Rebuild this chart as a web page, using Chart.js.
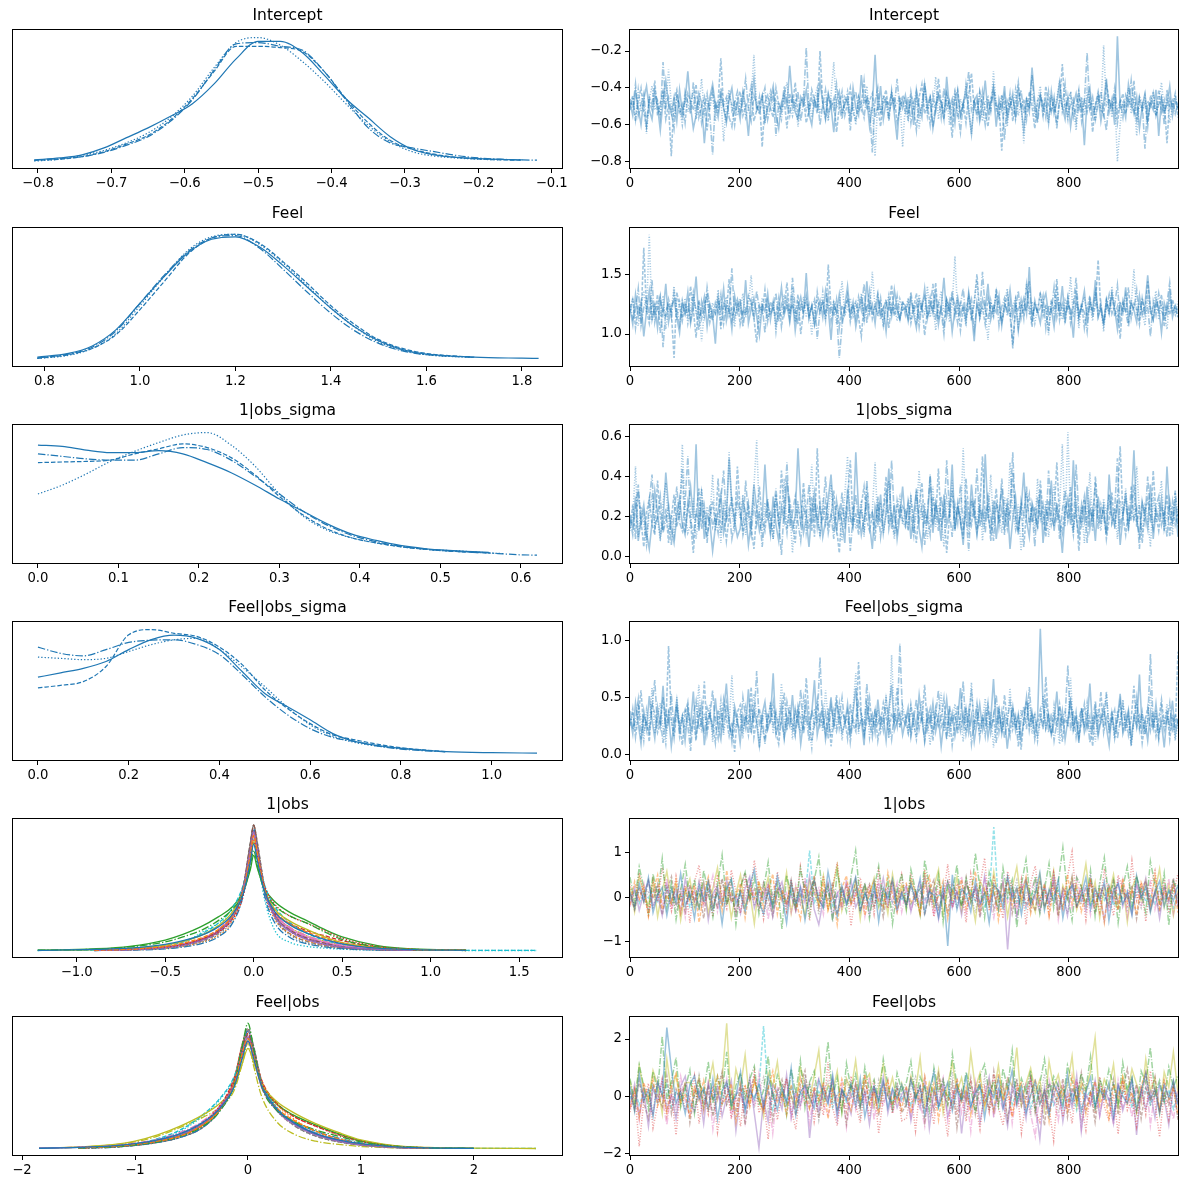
<!DOCTYPE html>
<html><head><meta charset="utf-8">
<script src="https://cdn.jsdelivr.net/npm/chart.js@4.4.1/dist/chart.umd.min.js"></script>
<style>
html,body{margin:0;padding:0;background:#fff;width:1188px;height:1189px;overflow:hidden;position:relative;}
canvas{position:absolute;}
</style></head><body>
<script>
// ---------------- DATA ----------------
const titles = ['Intercept','Feel','1|obs_sigma','Feel|obs_sigma','1|obs','Feel|obs'];

const kdeTickLabels = [
 ['−0.8','−0.7','−0.6','−0.5','−0.4','−0.3','−0.2','−0.1'],
 ['0.8','1.0','1.2','1.4','1.6','1.8'],
 ['0.0','0.1','0.2','0.3','0.4','0.5','0.6'],
 ['0.0','0.2','0.4','0.6','0.8','1.0'],
 ['−1.0','−0.5','0.0','0.5','1.0','1.5'],
 ['−2','−1','0','1','2']
];
const traceYTickLabels = [
 ['−0.8','−0.6','−0.4','−0.2'],['1.0','1.5'],['0.0','0.2','0.4','0.6'],
 ['0.0','0.5','1.0'],['−1','0','1'],['−2','0','2']
];
const traceXTickLabels = ['0','200','400','600','800'];

// KDE grids (parameter value) and densities (relative height) per chain / coordinate
const interceptGrid = [-0.805,-0.77,-0.74,-0.71,-0.68,-0.65,-0.62,-0.59,-0.56,-0.53,-0.50,-0.47,-0.44,-0.41,-0.38,-0.35,-0.32,-0.29,-0.26,-0.23,-0.20,-0.17,-0.14,-0.12];
const interceptKde = [
 [0.013,0.03,0.055,0.11,0.19,0.27,0.36,0.46,0.62,0.82,0.96,0.96,0.87,0.69,0.50,0.35,0.20,0.10,0.055,0.035,0.025,0.018,0.015,null],
 [0.01,0.02,0.04,0.08,0.14,0.21,0.33,0.50,0.72,0.92,0.92,0.91,0.88,0.72,0.50,0.31,0.17,0.10,0.06,0.035,0.022,0.015,0.012,null],
 [0.012,0.025,0.04,0.075,0.13,0.20,0.32,0.49,0.73,0.94,0.95,0.92,0.89,0.72,0.49,0.27,0.15,0.11,0.08,0.05,0.03,0.02,0.014,0.013],
 [0.005,0.02,0.05,0.09,0.15,0.23,0.35,0.52,0.75,0.95,0.99,0.93,0.80,0.64,0.46,0.29,0.16,0.08,0.045,0.03,0.02,0.015,null,null]
];
const feelGrid = [0.785,0.85,0.9,0.95,1.0,1.05,1.1,1.15,1.2,1.25,1.3,1.35,1.4,1.45,1.5,1.55,1.6,1.7,1.8,1.835];
const feelKde = [
 [0.02,0.05,0.11,0.24,0.45,0.66,0.85,0.96,0.98,0.90,0.75,0.58,0.41,0.26,0.15,0.08,0.045,0.02,0.012,0.01],
 [0.01,0.04,0.09,0.20,0.40,0.62,0.84,0.97,1.0,0.93,0.78,0.61,0.43,0.28,0.16,0.09,0.05,0.02,null,null],
 [0.015,0.045,0.10,0.23,0.45,0.67,0.86,0.97,0.99,0.89,0.72,0.54,0.37,0.23,0.13,0.07,0.04,0.02,null,null],
 [0.01,0.035,0.09,0.21,0.43,0.66,0.87,0.98,1.0,0.92,0.77,0.59,0.41,0.26,0.14,0.075,0.04,0.018,null,null]
];
const obsSigmaGrid = [0,0.03,0.06,0.09,0.12,0.15,0.18,0.21,0.24,0.27,0.30,0.33,0.36,0.39,0.42,0.45,0.48,0.51,0.54,0.56,0.58,0.60,0.62];
const obsSigmaKde = [
 [0.89,0.88,0.85,0.83,0.83,0.845,0.82,0.75,0.67,0.57,0.46,0.36,0.26,0.18,0.13,0.09,0.065,0.05,0.04,0.035,null,null,null],
 [0.75,0.755,0.76,0.77,0.82,0.86,0.90,0.87,0.79,0.65,0.48,0.33,0.22,0.15,0.11,0.08,0.06,0.045,0.035,0.03,null,null,null],
 [0.82,0.80,0.78,0.77,0.77,0.82,0.87,0.855,0.77,0.64,0.50,0.36,0.25,0.17,0.12,0.085,0.06,0.045,0.035,0.03,0.022,0.015,0.013],
 [0.50,0.57,0.66,0.76,0.84,0.91,0.97,0.99,0.89,0.72,0.50,0.32,0.21,0.15,0.11,0.08,0.06,0.05,0.04,0.03,0.025,null,null]
];
const feelSigmaGrid = [0,0.05,0.1,0.15,0.2,0.25,0.3,0.35,0.4,0.45,0.5,0.55,0.6,0.65,0.7,0.75,0.8,0.85,0.9,1.0,1.1];
const feelSigmaKde = [
 [0.61,0.645,0.68,0.735,0.83,0.91,0.945,0.92,0.83,0.655,0.48,0.375,0.27,0.16,0.096,0.065,0.043,0.028,0.016,0.008,0.005],
 [0.525,0.545,0.575,0.695,0.948,0.99,0.96,0.935,0.85,0.71,0.51,0.36,0.24,0.15,0.11,0.075,0.048,0.03,0.016,null,null],
 [0.85,0.80,0.78,0.83,0.887,0.905,0.908,0.87,0.79,0.63,0.455,0.31,0.20,0.13,0.096,0.06,0.037,0.024,0.015,null,null],
 [0.77,0.76,0.75,0.76,0.815,0.87,0.908,0.92,0.83,0.69,0.535,0.37,0.23,0.14,0.088,0.06,0.043,0.03,null,null,null]
];
const obsGrid = [-1.22,-0.9,-0.7,-0.5,-0.4,-0.3,-0.2,-0.12,-0.06,-0.02,0,0.02,0.06,0.12,0.2,0.3,0.4,0.5,0.7,0.9,1.2,1.6];
const obsKde = [
 [0.003,0.01,0.02,0.05,0.08,0.12,0.19,0.29,0.45,0.70,0.85,0.72,0.48,0.31,0.21,0.14,0.09,0.055,0.02,0.008,0.003,null],
 [null,0.005,0.012,0.035,0.06,0.10,0.17,0.28,0.47,0.76,0.92,0.78,0.50,0.32,0.22,0.15,0.10,0.06,0.022,0.008,0.003,null],
 [0.004,0.012,0.03,0.07,0.11,0.16,0.24,0.33,0.46,0.66,0.80,0.68,0.48,0.36,0.28,0.22,0.15,0.09,0.03,0.01,0.004,null],
 [null,0.005,0.012,0.03,0.05,0.09,0.15,0.25,0.43,0.72,0.88,0.75,0.52,0.37,0.28,0.22,0.16,0.10,0.035,0.012,0.004,null],
 [null,0.003,0.008,0.025,0.045,0.08,0.15,0.27,0.48,0.80,0.95,0.80,0.48,0.27,0.16,0.09,0.05,0.028,0.01,0.004,null,null],
 [null,0.004,0.01,0.03,0.05,0.09,0.16,0.28,0.50,0.83,1.0,0.84,0.50,0.28,0.17,0.10,0.06,0.03,0.01,0.004,0.002,null],
 [null,0.004,0.01,0.03,0.055,0.095,0.17,0.29,0.48,0.78,0.93,0.79,0.49,0.30,0.19,0.12,0.075,0.045,0.015,0.005,null,null],
 [null,0.002,0.006,0.02,0.035,0.065,0.13,0.25,0.50,0.85,1.0,0.86,0.52,0.26,0.13,0.065,0.035,0.02,0.006,0.002,null,null],
 [0.003,0.008,0.02,0.045,0.075,0.12,0.20,0.31,0.47,0.72,0.87,0.74,0.49,0.33,0.24,0.17,0.11,0.065,0.025,0.009,0.003,null],
 [0.002,0.006,0.015,0.04,0.07,0.13,0.22,0.34,0.52,0.75,0.86,0.76,0.53,0.35,0.23,0.14,0.085,0.05,0.018,0.007,0.003,0.002],
 [null,0.002,0.005,0.015,0.03,0.055,0.11,0.22,0.44,0.80,0.97,0.82,0.45,0.22,0.11,0.055,0.03,0.016,0.005,0.002,null,null],
 [null,null,0.005,0.018,0.035,0.065,0.12,0.23,0.45,0.78,0.94,0.80,0.47,0.25,0.14,0.08,0.045,0.025,0.008,0.003,null,null],
 [0.005,0.015,0.035,0.085,0.13,0.19,0.27,0.35,0.47,0.64,0.76,0.66,0.50,0.39,0.31,0.24,0.17,0.11,0.04,0.014,0.005,null],
 [null,0.004,0.01,0.028,0.05,0.085,0.15,0.26,0.46,0.77,0.92,0.79,0.49,0.30,0.22,0.16,0.12,0.08,0.03,0.01,0.004,null],
 [null,0.003,0.009,0.026,0.048,0.085,0.16,0.28,0.49,0.80,0.96,0.82,0.50,0.28,0.17,0.10,0.06,0.033,0.012,0.004,null,null],
 [null,0.003,0.008,0.024,0.044,0.08,0.15,0.28,0.51,0.85,1.0,0.86,0.52,0.29,0.16,0.09,0.05,0.026,0.009,0.003,null,null],
 [null,0.003,0.009,0.028,0.05,0.09,0.16,0.29,0.50,0.81,0.95,0.82,0.50,0.30,0.18,0.11,0.065,0.038,0.013,0.005,null,null],
 [null,0.002,0.007,0.022,0.04,0.075,0.14,0.27,0.50,0.86,1.0,0.87,0.52,0.27,0.14,0.075,0.04,0.022,0.007,0.002,null,null],
 [null,0.004,0.01,0.03,0.05,0.09,0.16,0.27,0.47,0.78,0.93,0.79,0.48,0.29,0.19,0.12,0.075,0.045,0.016,0.006,0.002,null],
 [0.002,0.004,0.01,0.03,0.06,0.14,0.22,0.30,0.45,0.74,0.90,0.76,0.42,0.16,0.07,0.035,0.02,0.012,0.005,0.003,0.002,0.002]
];
const feelObsGrid = [-1.85,-1.5,-1.2,-1.0,-0.8,-0.6,-0.4,-0.25,-0.12,-0.05,0,0.05,0.12,0.25,0.4,0.6,0.8,1.0,1.3,1.6,2.0,2.55];
const feelObsKde = [
 [0.004,0.01,0.022,0.04,0.07,0.12,0.21,0.32,0.50,0.72,0.86,0.72,0.50,0.32,0.21,0.12,0.07,0.04,0.015,0.006,0.003,null],
 [null,0.008,0.018,0.035,0.06,0.10,0.19,0.31,0.52,0.76,0.88,0.74,0.50,0.33,0.23,0.14,0.08,0.04,0.014,0.005,null,null],
 [null,0.006,0.015,0.03,0.055,0.10,0.18,0.30,0.52,0.82,1.0,0.80,0.50,0.31,0.22,0.15,0.10,0.055,0.02,0.007,0.003,null],
 [null,0.01,0.02,0.04,0.07,0.12,0.21,0.34,0.54,0.76,0.87,0.74,0.53,0.36,0.26,0.18,0.11,0.06,0.02,0.007,null,null],
 [0.004,0.01,0.02,0.038,0.065,0.11,0.20,0.33,0.53,0.77,0.89,0.75,0.50,0.31,0.20,0.11,0.06,0.03,0.01,0.004,null,null],
 [null,0.007,0.016,0.032,0.06,0.10,0.19,0.32,0.53,0.79,0.91,0.77,0.51,0.32,0.21,0.12,0.07,0.035,0.012,0.005,0.002,null],
 [0.005,0.012,0.024,0.045,0.075,0.13,0.22,0.34,0.52,0.74,0.85,0.72,0.49,0.31,0.20,0.12,0.065,0.035,0.012,0.004,null,null],
 [null,0.006,0.014,0.03,0.055,0.10,0.18,0.31,0.54,0.81,0.93,0.79,0.52,0.31,0.19,0.10,0.055,0.03,0.01,0.004,null,null],
 [0.004,0.014,0.032,0.06,0.11,0.18,0.27,0.36,0.50,0.68,0.80,0.69,0.52,0.38,0.29,0.20,0.13,0.07,0.025,0.01,0.005,0.002],
 [null,0.008,0.02,0.04,0.08,0.15,0.27,0.40,0.58,0.78,0.88,0.76,0.53,0.33,0.21,0.12,0.065,0.035,0.012,0.005,0.003,0.002],
 [null,0.005,0.012,0.026,0.05,0.09,0.17,0.30,0.52,0.81,0.94,0.80,0.53,0.33,0.22,0.14,0.085,0.045,0.016,0.006,0.003,null],
 [null,0.006,0.014,0.03,0.055,0.10,0.19,0.33,0.56,0.83,0.94,0.80,0.55,0.36,0.24,0.14,0.08,0.04,0.013,0.005,null,null],
 [null,0.008,0.018,0.036,0.065,0.11,0.20,0.32,0.50,0.74,0.86,0.74,0.52,0.36,0.27,0.19,0.12,0.065,0.022,0.008,0.003,null],
 [null,0.008,0.018,0.035,0.06,0.11,0.20,0.34,0.57,0.82,0.92,0.79,0.55,0.37,0.26,0.18,0.115,0.06,0.02,0.007,null,null],
 [null,0.006,0.014,0.03,0.055,0.10,0.19,0.33,0.55,0.82,0.94,0.80,0.53,0.33,0.21,0.12,0.065,0.033,0.011,0.004,null,null],
 [null,0.005,0.012,0.026,0.05,0.09,0.17,0.31,0.54,0.83,0.95,0.81,0.53,0.32,0.20,0.11,0.06,0.03,0.01,0.004,null,null],
 [null,0.007,0.016,0.033,0.06,0.105,0.19,0.32,0.53,0.79,0.90,0.77,0.52,0.32,0.21,0.12,0.07,0.036,0.012,0.005,null,null],
 [null,0.005,0.012,0.026,0.05,0.09,0.17,0.31,0.55,0.84,0.96,0.82,0.54,0.32,0.19,0.10,0.055,0.028,0.009,0.003,null,null],
 [0.003,0.012,0.03,0.055,0.10,0.17,0.25,0.33,0.47,0.68,0.84,0.66,0.42,0.22,0.12,0.06,0.035,0.018,0.007,0.003,null,null],
 [null,0.007,0.018,0.038,0.075,0.14,0.26,0.39,0.57,0.79,0.90,0.78,0.54,0.34,0.22,0.13,0.07,0.038,0.013,0.005,0.003,null]
];

// Trace samples (thinned draws) per chain / coordinate
const interceptTrace = [
 [-.48,-.55,-.42,-.51,-.60,-.46,-.39,-.52,-.57,-.44,-.50,-.63,-.47,-.36,-.49,-.54,-.45,-.58,-.41,-.53,-.47,-.31,-.50,-.62,-.55,-.43,-.48,-.70,-.52,-.45,-.38,-.49,-.56,-.44,-.51,-.59,-.46,-.40,-.53,-.48,-.57,-.42,-.50,-.66,-.47,-.35,-.52,-.49,-.44,-.58,-.51,-.46,-.39,-.55,-.62,-.48,-.43,-.50,-.28,-.47,-.53,-.57,-.45,-.49,-.41,-.54,-.60,-.46,-.51,-.37,-.48,-.56,-.43,-.50,-.64,-.47,-.42,-.53,-.49,-.45,-.58,-.40,-.51,-.55,-.33,-.48,-.46,-.61,-.50,-.22,-.52,-.39,-.57,-.47,-.49,-.43,-.54,-.68,-.46,-.51,
  -.44,-.53,-.47,-.60,-.41,-.50,-.56,-.38,-.49,-.45,-.62,-.52,-.43,-.48,-.57,-.34,-.51,-.46,-.59,-.42,-.55,-.49,-.40,-.53,-.65,-.47,-.44,-.58,-.50,-.36,-.54,-.48,-.43,-.61,-.46,-.52,-.39,-.57,-.49,-.45,-.55,-.41,-.50,-.63,-.47,-.53,-.29,-.48,-.56,-.44,-.51,-.46,-.59,-.42,-.54,-.48,-.37,-.50,-.57,-.45,-.61,-.49,-.43,-.52,-.47,-.71,-.46,-.40,-.55,-.50,-.44,-.58,-.48,-.35,-.53,-.46,-.60,-.12,-.51,-.49,-.56,-.38,-.47,-.54,-.45,-.62,-.50,-.43,-.57,-.48,-.52,-.41,-.66,-.46,-.53,-.49,-.39,-.55,-.47,-.51],
 [-.52,-.44,-.58,-.47,-.40,-.53,-.61,-.45,-.49,-.36,-.55,-.48,-.42,-.57,-.50,-.77,-.46,-.41,-.54,-.49,-.59,-.43,-.47,-.52,-.38,-.56,-.50,-.45,-.63,-.48,-.41,-.53,-.47,-.24,-.51,-.57,-.44,-.49,-.60,-.46,-.42,-.55,-.50,-.47,-.39,-.58,-.52,-.45,-.72,-.48,-.44,-.51,-.56,-.40,-.49,-.53,-.46,-.62,-.43,-.50,-.37,-.55,-.48,-.45,-.59,-.52,-.41,-.47,-.54,-.20,-.49,-.57,-.44,-.51,-.46,-.64,-.50,-.42,-.55,-.48,-.40,-.53,-.58,-.45,-.49,-.36,-.52,-.47,-.43,-.56,-.50,-.61,-.46,-.41,-.54,-.48,-.45,-.59,-.51,-.44,
  -.47,-.56,-.42,-.51,-.63,-.45,-.38,-.54,-.49,-.60,-.44,-.52,-.35,-.48,-.57,-.43,-.50,-.67,-.46,-.41,-.55,-.48,-.59,-.44,-.32,-.51,-.47,-.56,-.42,-.53,-.61,-.46,-.40,-.52,-.49,-.74,-.45,-.54,-.43,-.58,-.48,-.37,-.51,-.46,-.57,-.42,-.50,-.62,-.47,-.44,-.55,-.39,-.49,-.53,-.45,-.60,-.48,-.27,-.52,-.46,-.43,-.56,-.50,-.41,-.58,-.47,-.53,-.45,-.64,-.49,-.42,-.51,-.55,-.38,-.47,-.52,-.44,-.59,-.48,-.43,-.54,-.46,-.50,-.36,-.57,-.45,-.52,-.48,-.61,-.44,-.49,-.55,-.41,-.53,-.47,-.70,-.46,-.50,-.43,-.56],
 [-.46,-.51,-.38,-.55,-.49,-.43,-.60,-.47,-.52,-.41,-.48,-.56,-.26,-.50,-.45,-.53,-.62,-.44,-.49,-.57,-.42,-.48,-.54,-.37,-.51,-.46,-.59,-.50,-.43,-.55,-.76,-.47,-.52,-.40,-.49,-.45,-.56,-.61,-.48,-.42,-.53,-.47,-.35,-.51,-.58,-.44,-.49,-.54,-.46,-.40,-.57,-.50,-.43,-.66,-.48,-.52,-.39,-.47,-.55,-.45,-.50,-.42,-.58,-.48,-.18,-.53,-.46,-.51,-.44,-.60,-.49,-.41,-.55,-.47,-.52,-.38,-.50,-.57,-.45,-.48,-.63,-.46,-.42,-.53,-.49,-.56,-.44,-.51,-.75,-.47,-.40,-.54,-.49,-.45,-.58,-.43,-.50,-.35,-.52,-.47,
  -.53,-.45,-.59,-.48,-.42,-.55,-.50,-.37,-.52,-.46,-.61,-.49,-.44,-.56,-.40,-.51,-.47,-.58,-.43,-.53,-.64,-.48,-.45,-.31,-.52,-.47,-.56,-.42,-.50,-.60,-.46,-.53,-.39,-.49,-.55,-.44,-.68,-.47,-.51,-.43,-.57,-.48,-.41,-.54,-.46,-.50,-.33,-.52,-.59,-.45,-.48,-.56,-.42,-.53,-.47,-.62,-.44,-.50,-.38,-.55,-.49,-.46,-.58,-.43,-.52,-.47,-.21,-.51,-.45,-.57,-.48,-.42,-.54,-.63,-.46,-.50,-.40,-.53,-.47,-.56,-.44,-.49,-.36,-.52,-.58,-.45,-.48,-.73,-.47,-.51,-.43,-.55,-.49,-.45,-.60,-.41,-.52,-.47,-.54,-.48],
 [-.50,-.45,-.57,-.41,-.53,-.48,-.65,-.46,-.39,-.52,-.47,-.55,-.43,-.50,-.30,-.49,-.56,-.44,-.51,-.60,-.46,-.53,-.48,-.42,-.57,-.49,-.35,-.54,-.47,-.51,-.44,-.58,-.50,-.45,-.69,-.48,-.41,-.52,-.47,-.55,-.49,-.43,-.56,-.51,-.46,-.22,-.50,-.54,-.45,-.59,-.48,-.42,-.53,-.47,-.51,-.57,-.44,-.37,-.50,-.55,-.46,-.61,-.49,-.43,-.52,-.48,-.56,-.45,-.40,-.53,-.50,-.47,-.58,-.44,-.26,-.51,-.46,-.54,-.49,-.42,-.55,-.48,-.60,-.45,-.52,-.47,-.39,-.56,-.50,-.77,-.46,-.53,-.44,-.49,-.57,-.41,-.51,-.48,-.45,-.72,
  -.49,-.58,-.43,-.52,-.46,-.62,-.48,-.40,-.55,-.45,-.51,-.34,-.57,-.47,-.53,-.44,-.60,-.49,-.42,-.56,-.46,-.52,-.38,-.50,-.65,-.47,-.54,-.43,-.58,-.48,-.45,-.53,-.31,-.50,-.57,-.44,-.49,-.61,-.46,-.52,-.41,-.55,-.48,-.70,-.45,-.51,-.43,-.56,-.47,-.39,-.54,-.49,-.59,-.44,-.52,-.46,-.36,-.53,-.48,-.57,-.42,-.50,-.63,-.47,-.45,-.55,-.41,-.51,-.48,-.58,-.44,-.53,-.17,-.49,-.46,-.56,-.43,-.80,-.60,-.47,-.50,-.40,-.54,-.45,-.66,-.48,-.52,-.44,-.57,-.49,-.42,-.55,-.47,-.37,-.53,-.46,-.59,-.50,-.44,-.51]
];
const feelTrace = [
 [1.21,1.08,1.33,1.15,1.27,.98,1.19,1.36,1.12,1.24,1.05,1.30,1.18,1.42,1.10,1.23,1.29,1.14,1.01,1.26,1.17,1.35,1.09,1.22,1.48,1.13,1.20,1.31,1.06,1.25,1.16,.92,1.28,1.19,1.38,1.11,1.23,1.04,1.32,1.18,1.26,1.14,1.45,1.09,1.21,1.30,1.15,.99,1.24,1.19,1.34,1.12,1.27,1.07,1.20,1.39,1.16,1.25,1.10,1.29,1.03,1.22,1.31,1.17,1.51,1.13,1.24,1.08,1.19,1.28,1.14,1.36,1.21,.95,1.26,1.18,1.33,1.11,1.23,1.40,1.16,1.27,1.06,1.20,1.30,1.13,1.44,1.19,1.25,1.09,1.32,1.17,1.22,1.02,1.28,1.15,1.37,1.21,1.12,1.26,
  1.24,1.11,1.30,1.17,1.05,1.28,1.20,1.38,1.13,1.25,1.19,1.33,1.08,1.22,1.47,1.15,1.27,1.02,1.21,1.31,1.16,1.24,1.10,1.35,1.19,.94,1.26,1.14,1.29,1.21,1.42,1.12,1.23,1.18,1.32,1.07,1.25,1.20,1.37,1.15,1.28,1.03,1.22,1.30,1.17,1.56,1.13,1.24,1.19,1.09,1.27,1.34,1.16,1.21,1.06,1.29,1.18,1.40,1.12,1.25,1.20,.97,1.31,1.15,1.23,1.36,1.11,1.26,1.19,1.45,1.14,1.22,1.08,1.28,1.17,1.33,1.21,1.04,1.25,1.18,1.39,1.13,1.27,1.20,1.10,1.32,1.16,1.24,1.49,1.19,1.12,1.29,1.22,1.01,1.26,1.17,1.35,1.14,1.23,1.20],
 [1.18,1.30,1.05,1.24,1.12,1.72,1.20,1.09,1.27,1.16,1.33,1.01,1.22,1.14,1.29,1.19,.80,1.35,1.23,1.11,1.26,1.15,1.40,1.20,.97,1.28,1.13,1.24,1.34,1.10,1.21,1.17,1.31,1.04,1.25,1.19,1.46,1.12,1.23,1.29,1.08,1.20,1.16,1.32,1.26,1.13,.93,1.24,1.18,1.37,1.11,1.27,1.21,1.15,1.30,1.06,1.22,1.43,1.17,1.25,1.14,1.33,1.00,1.20,1.28,1.16,1.23,1.09,1.35,1.19,1.26,1.12,1.58,1.21,1.15,1.29,1.05,1.24,1.18,1.32,1.10,1.22,1.27,1.14,.98,1.25,1.20,1.36,1.13,1.23,1.17,1.30,1.08,1.26,1.19,1.41,1.15,1.22,1.11,1.28,
  1.16,1.27,1.09,1.22,1.34,1.14,1.25,.99,1.20,1.31,1.18,1.43,1.12,1.24,1.07,1.29,1.21,1.36,1.15,1.26,1.03,1.23,1.19,1.32,1.11,1.27,1.50,1.17,1.22,1.08,1.30,1.20,1.14,1.38,1.25,1.10,1.21,1.33,1.16,.91,1.24,1.19,1.29,1.13,1.41,1.22,1.06,1.27,1.18,1.35,1.15,1.23,1.02,1.28,1.20,1.46,1.12,1.25,1.17,1.31,1.09,1.22,1.37,1.16,1.26,1.05,1.21,1.32,1.14,1.24,1.62,1.19,1.11,1.28,1.20,1.34,1.15,1.23,.96,1.27,1.18,1.39,1.13,1.25,1.21,1.08,1.30,1.17,1.44,1.22,1.12,1.26,1.19,1.33,1.06,1.24,1.16,1.29,1.20,1.14],
 [1.25,1.13,1.20,1.38,1.07,1.22,1.29,1.16,1.45,1.10,1.23,1.32,.89,1.19,1.26,1.14,1.35,1.21,1.08,1.28,1.17,1.24,1.12,1.31,1.20,1.03,1.27,1.15,1.39,1.22,1.11,1.26,1.18,1.33,1.09,1.25,1.19,1.55,1.14,1.23,1.30,1.06,1.21,1.17,1.28,1.12,1.36,1.20,1.24,1.01,1.27,1.16,1.22,1.34,1.10,1.25,1.19,1.30,1.13,1.47,1.21,1.08,1.26,1.18,1.32,1.14,1.23,1.29,.96,1.20,1.27,1.15,1.33,1.11,1.24,1.19,.80,1.07,1.22,1.28,1.16,1.25,1.13,1.31,1.20,1.42,1.09,1.26,1.18,1.23,1.34,1.12,1.21,1.29,1.05,1.24,1.17,1.32,1.14,1.20,
  1.22,1.13,1.35,1.18,1.27,1.06,1.24,1.31,1.15,1.20,1.42,1.11,1.26,1.19,1.00,1.28,1.17,1.33,1.23,1.09,1.25,1.38,1.14,1.21,1.29,1.04,1.24,1.16,1.52,1.20,1.12,1.27,1.18,1.34,1.07,1.23,1.30,1.15,1.26,.88,1.21,1.36,1.13,1.25,1.19,1.44,1.10,1.28,1.17,1.22,1.32,1.05,1.24,1.19,1.39,1.14,1.27,1.21,1.09,1.30,1.16,1.25,1.47,1.12,1.23,1.18,1.02,1.29,1.20,1.35,1.15,1.26,1.08,1.22,1.33,1.17,1.24,1.41,1.11,1.28,1.19,1.06,1.25,1.21,1.37,1.14,1.30,1.18,1.23,.98,1.27,1.16,1.34,1.20,1.12,1.26,1.43,1.19,1.24,1.15],
 [1.20,1.29,1.14,1.07,1.24,1.36,1.18,1.83,1.11,1.26,1.21,1.15,1.32,1.04,1.23,1.19,1.40,1.12,1.27,1.16,1.30,1.09,1.22,1.35,1.17,1.25,.94,1.20,1.29,1.13,1.26,1.18,1.37,1.10,1.23,1.31,1.15,1.21,1.06,1.28,1.19,1.34,1.14,1.24,1.49,1.17,1.22,1.09,1.30,1.25,1.12,1.20,1.27,1.02,1.23,1.16,1.33,1.21,1.18,1.39,1.10,1.26,1.19,1.31,1.14,1.24,.99,1.22,1.29,1.17,1.35,1.12,1.25,1.20,1.28,1.08,1.23,1.44,1.16,1.21,1.30,1.13,1.26,1.19,1.34,1.10,1.24,1.17,1.52,1.22,1.15,1.28,1.06,1.23,1.33,1.18,1.25,1.11,1.29,1.20,
  1.19,1.30,1.12,1.25,1.08,1.33,1.21,1.17,1.40,1.14,1.26,1.03,1.23,1.36,1.18,1.29,1.10,1.24,1.65,1.16,1.27,1.20,1.07,1.32,1.15,1.25,1.45,1.13,1.22,1.19,.95,1.28,1.17,1.34,1.21,1.11,1.26,1.38,1.14,1.23,1.30,1.06,1.25,1.18,1.42,1.16,1.27,1.09,1.21,1.33,1.19,1.24,.99,1.29,1.15,1.37,1.22,1.12,1.28,1.20,1.48,1.14,1.26,1.05,1.23,1.31,1.17,1.25,1.11,1.35,1.19,1.22,1.02,1.28,1.16,1.40,1.21,1.13,1.27,1.18,1.32,1.09,1.24,1.54,1.15,1.26,1.20,1.07,1.30,1.17,1.23,1.36,1.12,1.25,1.19,1.04,1.29,1.21,1.16,1.27]
];
const obsSigmaTrace = [
 [.21,.15,.30,.08,.19,.26,.12,.04,.17,.33,.22,.10,.18,.42,.25,.14,.07,.20,.29,.16,.11,.24,.35,.19,.56,.13,.27,.09,.21,.17,.03,.15,.23,.31,.12,.20,.49,.26,.18,.10,.14,.28,.22,.06,.17,.36,.24,.13,.19,.46,.21,.11,.30,.16,.08,.25,.18,.38,.23,.14,.20,.54,.27,.12,.19,.05,.22,.32,.15,.26,.10,.18,.29,.41,.21,.13,.24,.17,.07,.34,.20,.15,.52,.23,.11,.19,.28,.16,.04,.25,.18,.31,.12,.22,.44,.14,.26,.09,.20,.35,
  .17,.26,.09,.21,.33,.14,.05,.23,.18,.40,.12,.27,.20,.08,.31,.16,.22,.46,.13,.25,.19,.06,.29,.15,.36,.21,.11,.24,.17,.51,.20,.13,.28,.09,.22,.34,.16,.26,.04,.19,.30,.14,.23,.42,.18,.10,.27,.21,.15,.33,.07,.24,.19,.38,.13,.25,.17,.02,.22,.29,.16,.48,.20,.11,.26,.18,.35,.14,.23,.08,.30,.19,.24,.12,.41,.21,.16,.28,.06,.20,.32,.15,.25,.53,.18,.11,.27,.22,.14,.36,.09,.23,.19,.29,.13,.45,.21,.17,.26,.10],
 [.14,.26,.09,.33,.18,.05,.22,.29,.16,.11,.38,.20,.13,.24,.07,.19,.31,.15,.22,.44,.12,.27,.17,.02,.21,.34,.14,.25,.10,.19,.28,.16,.39,.12,.23,.08,.20,.30,.17,.45,.24,.11,.19,.27,.15,.04,.22,.35,.18,.13,.26,.20,.09,.31,.16,.43,.23,.12,.28,.19,.07,.25,.17,.37,.21,.14,.30,.10,.54,.23,.18,.27,.12,.20,.33,.15,.02,.24,.19,.29,.48,.16,.22,.11,.26,.35,.18,.13,.21,.08,.30,.17,.24,.40,.14,.22,.11,.28,.19,.25,
  .22,.13,.29,.18,.07,.25,.37,.16,.21,.11,.30,.19,.44,.15,.24,.02,.20,.33,.14,.27,.18,.09,.39,.22,.16,.28,.12,.23,.50,.19,.26,.08,.21,.34,.15,.24,.11,.29,.18,.42,.20,.13,.27,.05,.23,.31,.17,.25,.14,.38,.21,.10,.28,.16,.22,.47,.19,.12,.26,.20,.35,.15,.24,.03,.21,.30,.17,.27,.13,.40,.22,.16,.25,.09,.19,.32,.14,.28,.55,.20,.11,.24,.18,.36,.15,.26,.07,.23,.29,.17,.43,.21,.13,.25,.19,.31,.10,.27,.16,.22],
 [.19,.11,.24,.36,.16,.22,.08,.28,.41,.14,.20,.30,.12,.18,.25,.06,.21,.35,.17,.13,.27,.50,.19,.10,.23,.16,.32,.21,.07,.26,.15,.20,.12,.29,.43,.18,.24,.09,.17,.31,.22,.14,.38,.20,.11,.27,.16,.23,.05,.19,.29,.13,.21,.34,.18,.01,.25,.47,.15,.22,.30,.17,.08,.24,.20,.36,.13,.27,.19,.11,.23,.40,.16,.21,.09,.28,.18,.32,.14,.25,.03,.20,.31,.17,.24,.12,.38,.19,.22,.15,.27,.10,.21,.33,.16,.48,.20,.13,.26,.18,
  .15,.28,.20,.11,.34,.18,.25,.06,.22,.41,.16,.27,.13,.30,.19,.48,.23,.10,.26,.17,.36,.14,.21,.03,.29,.19,.44,.15,.24,.12,.32,.20,.08,.27,.17,.39,.22,.14,.25,.52,.18,.11,.28,.21,.35,.16,.24,.05,.30,.19,.26,.13,.43,.20,.15,.27,.09,.23,.33,.18,.25,.12,.46,.21,.16,.29,.07,.24,.19,.37,.14,.26,.20,.11,.31,.17,.23,.49,.15,.22,.28,.13,.35,.19,.24,.04,.27,.18,.40,.21,.14,.25,.30,.16,.22,.10,.28,.19,.33,.15],
 [.13,.20,.45,.10,.25,.17,.06,.22,.30,.15,.19,.08,.27,.37,.14,.21,.11,.24,.18,.56,.23,.12,.16,.29,.09,.20,.34,.15,.25,.18,.41,.13,.22,.07,.28,.17,.52,.21,.14,.26,.19,.31,.11,.24,.16,.35,.58,.20,.12,.27,.18,.23,.09,.30,.15,.21,.39,.14,.25,.02,.20,.28,.17,.33,.12,.22,.46,.18,.24,.10,.29,.16,.21,.36,.13,.26,.19,.08,.31,.50,.17,.24,.14,.20,.28,.10,.35,.19,.23,.47,.15,.27,.12,.21,.38,.18,.09,.25,.30,.16,
  .24,.16,.31,.12,.22,.43,.18,.27,.09,.20,.35,.15,.26,.19,.05,.29,.21,.38,.14,.25,.17,.54,.20,.11,.28,.23,.16,.32,.08,.24,.19,.41,.15,.27,.21,.12,.30,.18,.47,.22,.14,.26,.03,.20,.33,.17,.25,.13,.39,.21,.16,.28,.10,.23,.36,.19,.24,.56,.15,.62,.20,.11,.31,.18,.25,.07,.22,.42,.16,.26,.19,.13,.29,.21,.31,.17,.24,.09,.28,.20,.34,.15,.23,.18,.45,.22,.12,.27,.19,.05,.30,.17,.25,.38,.14,.21,.26,.11,.32,.20]
];
const feelSigmaTrace = [
 [.32,.18,.45,.27,.09,.38,.22,.51,.30,.14,.41,.25,.60,.19,.35,.07,.28,.47,.21,.33,.12,.39,.26,.55,.17,.31,.44,.08,.29,.36,.20,.49,.24,.13,.37,.62,.27,.16,.42,.30,.10,.34,.23,.57,.19,.40,.28,.06,.35,.46,.22,.31,.71,.18,.27,.43,.14,.33,.25,.52,.20,.38,.09,.29,.45,.24,.36,.65,.17,.31,.41,.13,.28,.50,.22,.45,.34,.19,.26,.44,.15,.37,.58,.23,.30,.08,.42,.27,.35,.19,.48,.25,.33,.12,.40,.61,.21,.29,.36,.17,
  .29,.41,.18,.35,.24,.52,.31,.13,.38,.27,.45,.20,.33,.07,.29,.48,.23,.36,.16,.31,.58,.25,.40,.19,.34,.11,.28,.44,.22,.37,.15,.30,.66,.24,.39,.18,.33,.05,.27,.42,.21,.35,.14,.29,.50,.26,.37,.19,.31,1.10,.43,.23,.34,.17,.28,.55,.21,.38,.13,.30,.46,.25,.33,.10,.40,.19,.27,.62,.22,.35,.16,.29,.41,.24,.08,.36,.20,.31,.53,.18,.27,.39,.14,.33,.25,.70,.21,.30,.12,.37,.23,.44,.19,.28,.06,.34,.26,.47,.17,.31],
 [.25,.40,.15,.33,.56,.21,.29,.11,.44,.36,.19,.27,.50,.23,.95,.31,.14,.38,.26,.08,.35,.46,.20,.30,.12,.41,.24,.64,.18,.33,.27,.10,.39,.22,.48,.31,.16,.28,.02,.37,.43,.21,.34,.26,.59,.15,.30,.40,.23,.13,.36,.27,.45,.19,.09,.32,.54,.24,.38,.28,.16,.42,.30,.21,.67,.35,.11,.27,.47,.25,.33,.18,.40,.07,.29,.52,.23,.37,.31,.14,.44,.26,.20,.81,.34,.17,.30,.49,.22,.38,.12,.28,.45,.33,.19,.36,.27,.58,.24,.31,
  .34,.20,.44,.27,.15,.38,.29,.61,.22,.33,.12,.40,.25,.31,.49,.18,.36,.08,.28,.43,.21,.35,.17,.30,.57,.24,.39,.14,.32,.26,.45,.19,.34,.10,.37,.23,.52,.28,.16,.41,.25,.33,.04,.30,.47,.21,.36,.13,.27,.39,.22,.68,.29,.18,.35,.24,.42,.11,.31,.26,.50,.20,.37,.15,.28,.44,.23,.33,.07,.40,.27,.55,.19,.32,.25,.38,.14,.29,.46,.22,.35,.17,.31,.60,.24,.36,.10,.28,.41,.21,.34,.16,.30,.48,.26,.39,.13,.33,.23,.90],
 [.38,.22,.30,.48,.13,.35,.27,.19,.42,.65,.24,.32,.10,.37,.28,.53,.21,.44,.16,.31,.39,.25,.03,.34,.47,.22,.29,.18,.41,.33,.56,.26,.14,.38,.23,.45,.30,.11,.36,.27,.20,.50,.32,.17,.40,.28,.73,.24,.35,.09,.31,.43,.26,.37,.19,.29,.15,.46,.33,.22,.40,.27,.57,.18,.34,.12,.39,.25,.30,.85,.23,.36,.14,.43,.28,.20,.33,.50,.26,.38,.11,.31,.24,.45,.35,.19,.62,.29,.15,.40,.27,.34,.21,.48,.30,.13,.37,.25,.97,.32,
  .26,.37,.15,.31,.48,.22,.34,.11,.29,.40,.19,.35,.56,.24,.30,.13,.43,.27,.36,.18,.32,.64,.21,.38,.09,.28,.45,.25,.33,.16,.41,.23,.31,.52,.20,.37,.14,.29,.46,.26,.34,.07,.30,.42,.22,.59,.27,.35,.17,.32,.24,.49,.19,.36,.12,.28,.44,.25,.33,.78,.21,.38,.15,.30,.41,.23,.35,.10,.27,.47,.20,.34,.26,.53,.18,.31,.39,.14,.29,.43,.24,.36,.08,.32,.50,.22,.37,.17,.28,.88,.25,.33,.13,.40,.21,.30,.45,.19,.35,.27],
 [.28,.35,.20,.42,.31,.12,.39,.25,.58,.18,.33,.45,.23,.09,.37,.29,.16,.50,.26,.34,.21,.40,.14,.31,.27,.61,.19,.36,.24,.44,.11,.32,.28,.47,.17,.38,.25,.69,.22,.30,.35,.14,.41,.27,.20,.53,.33,.08,.29,.39,.24,.46,.18,.35,.26,.62,.30,.21,.43,.13,.37,.28,.19,.49,.32,.24,.06,.40,.27,.35,.20,.56,.31,.16,.38,.26,.44,.12,.34,.29,.22,.41,.71,.18,.36,.27,.48,.15,.32,.25,.39,.20,.30,.52,.14,.87,.28,.35,.23,.42,
  .31,.19,.40,.26,.13,.35,.47,.22,.30,.08,.38,.25,.33,.54,.20,.36,.15,.29,.44,.24,.32,.11,.41,.27,.63,.21,.34,.17,.30,.49,.23,.37,.06,.28,.42,.19,.35,.26,.58,.22,.31,.14,.39,.25,.33,.46,.18,.36,.12,.29,.51,.23,.34,.20,.43,.27,.09,.32,.38,.24,.67,.21,.30,.16,.37,.26,.45,.19,.33,.11,.40,.28,.35,.55,.22,.31,.14,.38,.25,.48,.20,.34,.07,.29,.43,.24,.36,.18,.32,.52,.23,.39,.15,.30,.26,.44,.21,.35,.12,.28]
];
const obsTrace = [
 [.12,-.25,.31,-.08,.44,-.35,.05,.22,-.41,.17,-.12,.53,-.20,.09,-.48,.28,-.05,.36,-.27,.14,-.60,.19,.41,-.15,.07,-.33,.25,.62,-.09,-.38,.16,-.22,.47,.03,-.58,.33,-.14,.20,-.52,.11,.38,-.06,-.24,.57,.02,-.43,.26,-.17,.13,.45,-.31,.08,-.19,.34,-.55,.21,-.03,.40,-.26,.10,
  -.20,.29,-.07,.42,-.36,.13,.04,-.45,.24,-1.10,.50,-.28,.18,.06,-.33,.37,-.16,.09,-.58,.27,.15,-.23,.46,-.04,.21,-.39,.32,-.13,.08,.55,-.30,.17,-.09,.39,-.47,.12,.26,-.19,.03,.44,-.27,.20,-.06,.35,-.53,.14,.30,-.15,.07,-.41,.48,-.02,.23,-.34,.11,.36,-.21,.16,-.08,.28],
 [-.18,.35,-.06,.23,-.44,.12,.50,-.28,.04,-.15,.39,-.36,.18,-.09,.27,-.57,.08,.45,-.21,.14,-.32,.60,-.11,.02,.31,-.47,.20,-.04,.37,-.25,.10,.52,-.38,.16,-.13,.29,-.07,-.50,.24,.06,.42,-.19,.33,-.30,.09,-.62,.19,.48,-.16,.01,.26,-.41,.13,.36,-.10,-.23,.55,.05,-.34,.22,
  .31,-.14,.08,-.39,.25,.47,-.22,.03,.36,-.48,.15,-.06,.40,-.26,.11,.58,-.31,.19,-.12,.28,-.52,.07,.34,-.18,.22,-.03,.45,-.37,.13,-.09,.30,-.44,.20,.04,-.24,.51,-.15,.26,-.33,.09,.38,-.20,.14,-.57,.24,.02,-.29,.43,-.11,.17,-.40,.33,.06,-.17,.49,-.25,.12,-.05,.27,-.35],
 [.45,-.12,.68,.21,-.35,.52,.03,.87,-.24,.33,-.51,.15,.74,-.08,.40,-.30,.60,.10,-.45,.28,.95,-.18,.36,-.62,.22,.56,-.05,.44,-.38,.18,.79,-.14,.30,-.72,.49,.07,-.27,.64,.12,-.41,.38,.90,-.20,.25,-.55,.58,.04,-.33,.47,1.05,-.10,.32,-.48,.19,.70,-.22,.41,-.60,.14,.53,
  -.28,.62,.15,-.40,.83,.26,-.15,.50,-.56,.34,.08,.72,-.22,.41,-.09,.98,.20,-.46,.55,.11,-.30,.66,.02,.39,-.68,.29,.85,-.12,.47,-.37,.18,.76,-.25,.33,1.12,.05,-.52,.44,.24,-.17,.60,-.43,.31,.89,-.06,.37,-.58,.22,.69,-.20,.46,.10,-.35,.81,.27,-.11,.54,-.63,.35,.16],
 [.30,-.22,.55,.08,-.40,.38,-.10,.66,.15,-.31,.47,-.05,.25,-.58,.34,.72,-.17,.20,-.44,.51,.02,-.26,.61,.13,-.36,.43,-.08,.83,.18,-.49,.29,-.14,.57,.06,-.33,.40,-.21,.69,.11,-.53,.35,-.02,.48,-.29,.22,.78,-.12,.31,-.65,.16,.44,-.19,.27,-.38,.59,.04,-.25,.37,-.09,.50,
  -.18,.48,.09,-.35,.62,.21,-.44,.37,-.03,.74,-.23,.30,.12,-.57,.52,-.10,.26,.88,-.31,.43,.05,-.48,.58,.17,-.20,.40,-.62,.33,.70,-.14,.24,-.39,.55,.08,-.27,.45,1.02,-.16,.29,-.51,.36,.14,-.33,.64,.02,-.42,.49,.19,-.24,.81,-.07,.32,-.55,.25,.60,-.19,.41,-.36,.10,.53],
 [-.14,.22,-.30,.10,.36,-.21,.05,-.42,.27,-.08,.18,-.35,.41,-.02,.13,-.26,.31,-.52,.08,.24,-.16,.39,-.11,.03,-.37,.20,.46,-.24,.15,-.05,.29,-.44,.11,.34,-.19,.06,-.31,.25,-.12,.48,-.28,-.62,-.04,.32,-.47,.09,.21,-.15,.37,-.23,.02,.28,-.39,.14,-.07,.43,-.18,.23,-.33,.07,
  .26,-.33,.14,-.18,.44,-.09,.21,-.50,.05,.35,-.24,.12,-.40,.30,-.02,.19,-.36,.47,-.14,.08,-.29,.38,-1.18,.23,-.45,.16,.41,-.20,.02,-.34,.27,-.11,.50,-.26,.10,-.42,.33,-.04,.18,-.31,.45,-.16,.07,-.54,.24,-.08,.36,-.22,.13,-.38,.29,-.01,.42,-.27,.15,-.48,.22,-.12,.34,-.19],
 [.08,-.29,.19,-.12,.37,-.04,.25,-.40,.13,.46,-.20,.06,-.33,.28,-.09,.16,-.48,.34,.02,-.22,.41,-.15,.10,-.36,.23,.55,-.07,.18,-.27,.31,-.02,-.43,.21,.12,-.18,.38,-.30,.05,.27,-.11,.49,-.25,.14,-.06,.33,-.39,.09,.24,-.16,.40,-.32,.03,.29,-.21,.15,-.45,.20,.35,-.10,.11,
  -.17,.32,-.06,.24,-.41,.15,.39,-.25,.04,-.35,.28,.11,-.20,.45,-.12,.21,-.46,.07,.35,-.28,.17,-.08,.42,-.37,.13,.26,-.15,.01,-.32,.38,-.22,.10,.30,-.43,.19,-.05,.47,-.26,.08,-.13,.33,-.38,.22,.05,-.19,.41,-.30,.14,-.03,.27,-.49,.18,.36,-.14,.09,-.34,.25,-.07,.43,-.23],
 [-.22,.14,-.05,.31,-.37,.09,.26,-.15,.42,-.28,.03,.19,-.45,.24,-.10,.35,-.20,.07,.48,-.32,.16,-.03,.29,-.41,.12,-.17,.38,.01,-.26,.22,-.50,.17,.33,-.08,.10,-.35,.27,-.13,.44,-.23,.05,.21,-.39,.30,-.06,.15,-.29,.40,-.18,.08,.25,-.44,.13,-.01,.36,-.24,.18,-.12,.32,-.34,
  .20,-.31,.06,.37,-.16,.27,-.43,.11,-.04,.33,-.25,.15,.46,-.36,.02,.23,-.19,.40,-.09,-.47,.18,.31,-.12,.07,-.38,.28,-.21,.13,.42,-.29,.04,-.15,.35,-.51,.19,.09,-.26,.44,-.07,.25,-.40,.14,-.02,.30,-.33,.21,-.11,.39,-.45,.12,.26,-.18,.05,.34,-.28,.16,-.06,.41,-.37,.10],
 [.05,-.18,.21,-.09,.14,-.27,.30,.02,-.13,.25,-.34,.10,.18,-.06,-.22,.35,-.11,.07,-.29,.23,.40,-.15,.04,-.38,.17,-.02,.28,-.20,.12,.33,-.25,.08,-.10,.22,-.31,.15,.01,-.17,.37,-.07,.19,-.40,.11,.26,-.14,.03,-.24,.31,-.05,.16,-.33,.20,.09,-.19,.27,-.12,.06,-.28,.24,-.03,
  -.12,.26,-.21,.08,.33,-.16,.12,-.32,.22,-.04,.17,-.26,.36,-.09,.05,-.35,.24,.11,-.19,.29,-.07,-.28,.19,.02,.38,-.14,.09,-.30,.25,-.01,.15,-.23,.32,-.11,.06,-.37,.21,.13,-.17,.28,-.05,-.27,.34,.04,-.20,.18,-.10,.30,-.33,.14,.07,-.24,.23,-.03,.39,-.15,.10,-.29,.20,-.08],
 [.22,-.33,.47,.06,-.19,.38,-.44,.15,.58,-.10,.28,-.52,.11,.41,-.25,.03,.34,-.38,.19,.66,-.14,.25,-.47,.08,.50,-.21,.13,-.60,.30,.05,.44,-.29,.17,-.08,.55,-.36,.23,.01,-.42,.37,.12,-.17,.48,-.27,.20,.71,-.31,.09,-.12,.35,-.49,.26,.04,.43,-.23,.16,-.37,.52,-.06,.27,
  -.26,.40,.10,-.35,.53,-.13,.24,.62,-.40,.18,-.05,.45,-.31,.29,.07,-.54,.36,.14,-.20,.57,-.09,.32,-.44,.21,.68,-.16,.39,.03,-.33,.49,-.24,.12,.60,-.38,.26,-.02,.42,-.28,.16,.75,-.11,.34,-.47,.23,.05,.51,-.19,.30,-.56,.20,.46,-.07,.37,-.30,.11,.64,-.22,.28,-.41,.15],
 [-.05,.12,-.14,.08,-.02,.17,-.10,.04,.21,-.18,.06,-.07,.14,-.22,.01,.10,-.12,.19,-.04,.07,-.16,.25,-.09,.03,.13,-.20,.05,-.01,.16,-.11,.09,-.24,.11,.02,-.08,.18,-.15,.06,-.03,1.05,-.13,.08,-.06,.15,-.19,.04,.12,-.10,.00,.20,-.17,.07,-.05,.13,-.21,.09,.02,-.12,.16,-.07,
  .11,-.16,.03,.19,-.08,.14,-.23,.07,-.02,.22,-.13,.10,-.18,.05,.16,-.09,.24,-.20,.01,1.58,-.15,.08,-.04,.21,-.11,.17,-.25,.06,.13,-.06,.20,-.14,.02,.15,-.21,.09,-.01,.18,-.12,.23,-.17,.04,.11,-.07,.26,-.19,.07,-.03,.14,-.22,.10,.19,-.10,.03,-.16,.21,-.05,.12,-.24,.08]
];
const feelObsTrace = [
 [.35,-.52,.80,-.15,.22,-.70,.48,.05,2.40,.95,-.24,.14,-.61,.40,.72,-.09,.28,-.45,.60,-.80,.18,.51,-.30,.02,.86,-.56,.25,-.12,.44,-.35,.67,.08,-.48,.31,-.20,.99,-.66,.15,.38,-.04,-.42,.57,.11,-.27,.75,-.58,.21,-.10,.46,-.33,.63,-.72,.06,.35,-.18,.52,-.40,.27,-.07,.41,
  -.26,.58,-.11,.33,-.64,.19,.86,-.37,.07,.49,-.50,.24,-.15,.70,-.32,.12,.41,-.76,.28,-.05,.62,-.44,.16,.90,-.21,.35,-.58,.03,.53,-.29,.20,-.68,.44,.09,-.40,.77,-.17,.30,-.53,.14,.66,-.34,.23,-.08,.48,-.71,.38,.01,-.24,.59,-.46,.17,.82,-.13,.27,-.60,.40,-.03,.55,-.31],
 [-.40,.25,-.75,.48,-.10,.62,-.33,.12,-.55,.38,.80,-.21,.05,-.68,.30,-.14,.55,-.47,.20,.70,-.28,-.02,.44,-.90,.16,.36,-.37,.58,-.06,-.52,.27,.88,-.19,.10,-.64,.41,-.25,.65,.03,-.44,.33,-.12,.50,-.78,.22,-.31,.60,.07,-.49,.42,-.16,.77,-.35,.14,-.58,.29,.53,-.23,.09,-.46,
  .36,-.58,.18,-.26,.71,-.09,.45,-.83,.24,.03,-.41,.63,-.18,.32,-.67,.12,.54,-.30,.08,-.52,.79,-.15,.38,-.72,.21,.47,-.36,.05,.60,-.23,.15,-.88,.43,-.07,.28,-.49,.73,-.20,.34,-.61,.10,.52,-.32,.19,-.77,.40,-.04,.66,-.27,.13,-.55,.35,.84,-.16,.26,-.45,.57,-.10,.31,-.64],
 [.62,-.20,1.10,.35,-.45,.85,.18,2.10,-.12,.55,1.35,-.38,.28,.92,-.60,.45,.12,1.20,-.25,.70,.05,1.55,-.50,.38,.80,-.08,.60,1.05,-.33,.22,1.40,-.15,.75,.30,-.65,.95,.10,1.25,-.40,.50,.88,-.22,.42,1.90,-.05,.65,-.55,1.15,.25,.78,-.30,1.02,.15,.58,-.18,1.30,.40,-.42,.82,.20,
  .48,1.22,-.15,.68,.30,-.48,1.00,.14,.58,-.28,1.48,.40,-.06,.85,.22,-.58,.72,1.12,.08,.52,-.35,.96,.28,1.60,-.20,.62,.16,.90,-.45,.44,1.30,.02,.70,.35,-.25,1.08,.50,-.12,.80,.24,1.38,-.40,.60,.12,.94,.38,-.30,1.18,.20,.66,-.52,.88,.46,1.70,.06,.56,-.18,1.02,.32,.74],
 [-.55,.20,-1.75,-.15,.45,-1.10,-.30,.60,-.70,.05,-1.35,.28,-.48,-.08,.72,-.95,.12,-.62,.35,-1.25,-.20,.50,-.78,.02,-1.05,.40,-.35,.85,-.58,-.12,-1.50,.25,-.82,.10,.62,-.45,-1.15,.32,-.25,.48,-.88,.08,-.66,1.20,-.40,-1.02,.18,-.52,.70,-.30,-.92,.15,-.72,.42,-1.30,-.05,.55,-.60,.30,-.85,
  -.78,.12,-1.20,.40,-.45,-.05,-.98,.58,-.32,-1.40,.22,-.65,.05,-.88,.48,-.22,-1.15,.30,-.55,.78,-.38,-1.02,.10,-.70,.42,-1.28,-.15,.62,-.50,-.90,.25,-.42,-1.55,.35,-.72,.02,-.95,.52,-.28,-1.18,.18,-.60,.68,-.35,-.85,.08,-1.32,.45,-.48,-.10,-1.05,.32,-.62,.88,-.25,-1.42,.15,-.80,.38,-.18],
 [-.30,.42,-.65,.15,-1.05,.28,-.18,.58,-.48,.05,-.80,.35,.70,-.25,-.55,.20,-.95,.48,-.10,.32,-.70,-.02,.55,-1.20,.12,-.38,.65,-.60,-1.80,-.15,-.88,.40,.08,-.45,.75,-.72,.18,-.28,.50,-1.45,.10,-.52,.38,-.20,.62,-.82,.25,-.05,-.62,.45,-.35,.14,-.98,.30,-.12,.68,-.58,.20,-.40,.06,
  .30,-.85,.08,-.42,.62,-1.12,.20,-.28,.45,-.70,-.05,.52,-1.30,.15,-.48,.35,-.92,.02,.68,-.60,.25,-.18,-1.05,.42,-.35,.12,-.78,.58,-.22,-1.50,.32,-.55,.05,.48,-.88,.18,-.40,.72,-1.22,.10,-.30,.55,-.68,.22,-.12,-.95,.38,-.50,.06,.60,-1.35,.28,-.45,.15,-.75,.42,-.08,-1.00,.34,-.25],
 [.18,-.48,.55,-.22,-.78,.40,.02,-.35,.72,-.60,.25,-.12,.48,-.92,.10,.62,-.40,.30,-.70,.05,.85,-.28,.15,-.55,.42,-1.00,.22,.68,-.18,-.45,.35,-.82,.12,.58,-.30,.02,-.65,.45,.90,-.38,.20,-.75,.30,-.08,.52,-.52,.16,-.95,.40,.08,-.42,.65,-.25,.28,-.68,.48,.00,-.32,.38,-.58,
  -.28,.60,-.05,.35,-.88,.22,-.50,.78,.10,-.30,.48,-1.10,.18,-.15,.65,-.62,.32,.02,-.45,.88,-.20,.40,-.80,.12,.55,-.35,-.02,.70,-.58,.25,-1.02,.45,.08,-.25,.62,-.72,.30,-.10,.82,-.48,.15,-.90,.38,.05,-.38,.58,-.65,.20,.95,-.15,.42,-.78,.28,-.05,.68,-.55,.12,-.30,.50,-.85],
 [-.45,.15,-.85,.38,-.20,-.62,.52,-.05,-1.00,.25,-.38,.70,-.15,-.72,.32,.05,-.55,.45,-1.15,.10,-.28,.60,-.68,-.02,.40,-.90,.20,-.35,.78,-.50,.12,-1.30,.28,-.12,.55,-.78,.02,-.42,.35,-.95,.18,.62,-.30,-.65,.22,-.10,.48,-1.08,.08,-.48,.40,-.22,.66,-.82,.14,-.35,.30,-.60,.05,-.25,
  .22,-.70,.45,-.18,-1.05,.30,-.40,.08,.65,-.88,-.10,.35,-.58,.18,-1.22,.52,-.28,-.02,.42,-.75,.12,-.48,.70,-.95,.25,-.15,.48,-.62,-1.40,.20,-.32,.58,-.08,-.85,.38,-.45,.15,.62,-1.12,.02,-.25,.45,-.68,.30,-.05,-.98,.55,-.38,.10,-.72,.35,-.20,.75,-1.02,.18,-.52,.40,-.12,-.80,.28],
 [.10,-.35,.45,-.15,.28,-.58,.62,.02,-.30,.50,-.70,.18,.38,-.12,-.48,.72,-.22,.12,-.62,.42,.80,-.28,.05,-.78,.30,-.05,.55,-.40,.20,.65,-.52,.15,-.18,.45,-.65,.28,.00,-.35,.75,-.10,.38,-.82,.22,.52,-.25,.08,-.48,.60,-.08,.32,-.68,.40,.15,-.38,.55,-.20,.10,-.55,.48,-.02,
  -.40,.25,.68,-.18,.40,-.75,.12,-.32,.58,-.05,.85,-.45,.20,-.62,.35,.02,-.28,.70,-.52,.15,-.10,.48,-.85,.30,.60,-.22,.08,-.68,.42,-.12,.78,-.38,.25,-.58,.10,.52,-.30,.05,-.80,.45,.18,-.42,.65,-.15,.32,-.70,.00,.55,-.25,.38,-.62,.12,.82,-.35,.22,-.48,.60,-.08,.28,-.72],
 [.55,-.40,1.05,.22,-.18,.90,.40,-.60,1.30,.12,.75,-.30,.48,.48,.05,.68,-.52,.38,1.15,-.10,.60,2.55,-.45,.95,.30,1.45,-.22,.50,.08,-.70,.82,.35,1.20,-.15,.58,.02,-.38,1.00,.45,-.08,.72,1.60,-.28,.40,.15,.88,-.55,.62,.20,1.25,-.12,.52,.78,-.35,.30,1.10,.05,.65,-.20,.45,
  -.25,.70,.20,1.35,-.32,.48,.05,.92,-.58,.40,1.18,.15,.65,-.18,1.52,.28,.82,-.42,.55,.10,1.08,-.10,.62,.35,1.70,-.28,.45,.98,.12,.58,-.48,1.22,.30,.75,-.05,.40,1.40,-.35,.52,.18,.88,2.05,-.15,.60,.25,1.12,-.40,.70,.08,.95,.42,-.22,1.30,.20,.65,-.60,.85,.32,1.55,.10],
 [-.10,.25,-.30,.12,-.05,.35,-.22,.08,.40,-.35,.15,-.12,.28,-.42,.02,.20,-.25,.38,-.08,.14,-.32,.45,-.18,.05,.26,-.40,.10,-.02,.32,2.45,.18,-.48,.22,.04,-.15,.36,-.30,.12,-.06,.42,-.26,.16,-.12,.30,-.38,.08,.24,-.20,.00,.40,-.34,.14,-.10,.26,-.42,.18,.04,-.24,.32,-.14,
  .20,-.32,.10,-.18,.38,-.08,.28,-.42,.15,.02,-.26,.44,-.14,.22,-.36,.06,.32,-.20,.12,-.45,.26,-.04,.40,-.28,.16,-.10,.35,-.38,.08,.24,-.16,.46,-.30,.04,.30,-.22,.14,-.48,.36,-.06,.20,-.34,.28,.00,-.12,.42,-.24,.10,.34,-.40,.18,-.02,.30,-.28,.06,.38,-.18,.22,-.44,.12]
];

// ---------------- LAYOUT / STYLE ----------------
const kdeXRange = [[-0.834,-0.086],[0.734,1.884],[-0.031,0.651],[-0.055,1.155],[-1.36,1.742],[-2.08,2.78]];
const traceYRange = [[-0.834,-0.086],[0.733,1.886],[-0.03,0.656],[-0.05,1.16],[-1.35,1.76],[-2.05,2.77]];
const DRAWS_MAX = 999;

const TAB10 = ['31,119,180','255,127,14','44,160,44','214,39,40','148,103,189','140,86,75','227,119,194','127,127,127','188,189,34','23,190,207'];
const KDE_DASH = [[],[4.5,2],[7.5,2,1.3,2],[1.3,2]];
const TRACE_DASH = [[],[3.7,1.6],[6.4,1.6,1,1.6],[1,1.65]];

const LEFT_X = 13, LEFT_W = 549, RIGHT_X = 630, RIGHT_W = 548;
const TOPS = [30,228,425,622,819,1017], BOX_H = 138;
const PAD_T = 30, PAD_B = 26, PAD_L = [8,50], PAD_R = [12,8];
const TITLE_SIZE = 15.5, TICK_SIZE = 13.2;
const FONT = "'DejaVu Sans', 'Liberation Sans', sans-serif";
Chart.defaults.font.family = FONT;

const boxPlugin = {
  id: 'box',
  afterDraw(chart) {
    const a = chart.chartArea, ctx = chart.ctx;
    ctx.save();
    ctx.strokeStyle = '#000'; ctx.lineWidth = 1;
    ctx.strokeRect(a.left - 0.5, a.top - 0.5, a.right - a.left + 1, a.bottom - a.top + 1);
    ctx.restore();
  }
};

function num(label){ return Number(label.replace('−','-')); }

function makeCanvas(col,row){
  const bx = col ? RIGHT_X : LEFT_X, bw = col ? RIGHT_W : LEFT_W, by = TOPS[row];
  const c = document.createElement('canvas');
  const w = bw + PAD_L[col] + PAD_R[col], h = BOX_H + PAD_T + PAD_B;
  c.width = w; c.height = h;
  c.style.left = (bx - PAD_L[col]) + 'px'; c.style.top = (by - PAD_T) + 'px';
  c.style.width = w + 'px'; c.style.height = h + 'px';
  document.body.appendChild(c);
  return c;
}

function tickAxis(labels, extra){
  const vals = labels.map(num);
  return Object.assign({
    type: 'linear',
    afterBuildTicks: s => { s.ticks = vals.map(v => ({value: v})); },
    ticks: { callback: (v, i) => labels[i], font: {size: TICK_SIZE}, color: '#000', maxRotation: 0, autoSkip: false, padding: 3 },
    grid: { display: true, drawOnChartArea: false, drawTicks: true, tickLength: 5, color: '#000', lineWidth: 1 },
    border: { display: false }
  }, extra);
}

function baseOptions(col,row,scales){
  const lh = TITLE_SIZE * 1.2;
  return {
    responsive: false, animation: false, devicePixelRatio: 1, events: [],
    layout: { padding: { left: col ? 0 : PAD_L[0], right: PAD_R[col], top: 0, bottom: 0 } },
    plugins: {
      legend: { display: false }, tooltip: { enabled: false },
      title: { display: true, fullSize: false, text: titles[row], color: '#000',
               font: { size: TITLE_SIZE, weight: 'normal', lineHeight: 1.2 },
               padding: { top: PAD_T - lh - 5, bottom: 5 } }
    },
    scales
  };
}

function kdeChart(row, grid, curves, multi){
  const datasets = curves.map((ys, i) => ({
    data: grid.map((x, j) => ({x: x, y: ys[j]})),
    borderColor: multi ? 'rgb(' + TAB10[i % 10] + ')' : '#1f77b4',
    borderWidth: multi ? 1.3 : 1.2,
    borderDash: KDE_DASH[i % 4],
    pointRadius: 0, fill: false, spanGaps: false,
    cubicInterpolationMode: 'monotone', tension: 0.4
  }));
  new Chart(makeCanvas(0,row), {
    type: 'line', data: { datasets },
    options: baseOptions(0,row,{
      x: tickAxis(kdeTickLabels[row], { min: kdeXRange[row][0], max: kdeXRange[row][1], position: 'bottom',
           afterFit: s => { s.height = PAD_B; } }),
      y: { type: 'linear', display: false, min: -0.05, max: 1.05 }
    }),
    plugins: [boxPlugin]
  });
}

function traceChart(row, series, multi){
  const datasets = series.map((vals, i) => ({
    data: vals.map((v, j) => ({x: j * DRAWS_MAX / (vals.length - 1), y: v})),
    borderColor: 'rgba(' + (multi ? TAB10[i % 10] : TAB10[0]) + ',' + (multi ? 0.45 : 0.42) + ')',
    borderWidth: multi ? 1.5 : 1.6,
    borderDash: TRACE_DASH[i % 4],
    pointRadius: 0, fill: false, tension: 0
  }));
  new Chart(makeCanvas(1,row), {
    type: 'line', data: { datasets },
    options: baseOptions(1,row,{
      x: tickAxis(traceXTickLabels, { min: 0, max: DRAWS_MAX, position: 'bottom',
           afterFit: s => { s.height = PAD_B; } }),
      y: tickAxis(traceYTickLabels[row], { min: traceYRange[row][0], max: traceYRange[row][1], position: 'left',
           afterFit: s => { s.width = PAD_L[1]; } })
    }),
    plugins: [boxPlugin]
  });
}

kdeChart(0, interceptGrid, interceptKde, false);
kdeChart(1, feelGrid, feelKde, false);
kdeChart(2, obsSigmaGrid, obsSigmaKde, false);
kdeChart(3, feelSigmaGrid, feelSigmaKde, false);
kdeChart(4, obsGrid, obsKde, true);
kdeChart(5, feelObsGrid, feelObsKde, true);

traceChart(0, interceptTrace, false);
traceChart(1, feelTrace, false);
traceChart(2, obsSigmaTrace, false);
traceChart(3, feelSigmaTrace, false);
traceChart(4, obsTrace, true);
traceChart(5, feelObsTrace, true);
</script>
</body></html>
